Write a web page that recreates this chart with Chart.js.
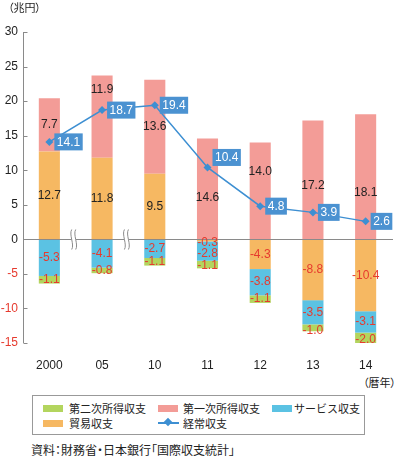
<!DOCTYPE html>
<html>
<head>
<meta charset="utf-8">
<script src="https://cdn.jsdelivr.net/npm/chart.js@4/dist/chart.umd.min.js"></script>
<style>
  html,body{margin:0;padding:0;background:#fff;}
  #wrap{position:relative;width:396px;height:456px;font-family:"Noto Sans CJK JP",sans-serif;color:#222;}
  #chartBox{position:absolute;left:0;top:0;width:396px;height:372px;}
  .jp{position:absolute;font-size:11px;line-height:14px;white-space:nowrap;font-feature-settings:"palt";}
  #legend{position:absolute;left:32px;top:395px;width:331px;height:38px;border:1px solid #999;}
  .sw{position:absolute;width:20px;height:7px;}
  .lt{position:absolute;font-size:11px;line-height:14px;white-space:nowrap;}
</style>
</head>
<body>
<div id="wrap">
  <div id="chartBox"><canvas id="chart"></canvas></div>
  <div class="jp" id="unit" style="left:8px;top:0px;">（兆円）</div>
  <div class="jp" id="xunit" style="left:363px;top:375px;">（暦年）</div>
  <div id="legend"></div>
  <div class="jp" id="source" style="left:31px;top:443px;font-size:12px;">資料：財務省・日本銀行「国際収支統計」</div>
</div>
<script>
const years = ['2000','05','10','11','12','13','14'];
const tradeBalance = [12.7, 11.8, 9.5, -0.3, -4.3, -8.8, -10.4];
const primaryIncome = [7.7, 11.9, 13.6, 14.6, 14.0, 17.2, 18.1];
const services = [-5.3, -4.1, -2.7, -2.8, -3.8, -3.5, -3.1];
const secondaryIncome = [-1.1, -0.8, -1.1, -1.1, -1.1, -1.0, -2.0];
const currentAccount = [14.1, 18.7, 19.4, 10.4, 4.8, 3.9, 2.6];
const yTicks = [-15, -10, -5, 0, 5, 10, 15, 20, 25, 30];

const COL = {
  trade:'#f6b862', primary:'#f39c97', services:'#5bc2e3', secondary:'#b3d55e',
  line:'#3d8fd2', box:'#4b92d1', red:'#e63a2e', axis:'#8a8a8a'
};
const NUM_FONT = '"Liberation Sans", Arial, sans-serif';

// small label nudges (px) so labels don't collide, as in the original
const labelNudge = {
  trade:    [0, 0, 0, 2, 0, 0, 0],
  primary:  [0, -27, 0, 9, -19, 6, 16],
  services: [0, 0, 0, 3, 0, 0, 0],
  secondary:[0, 0, 0, 1, 0, 3, 0]
};
const lineLabelNudge = [0, 0, 0, -10, 0, 0, 0];

// legend (html)
const legendItems = [
  {t:'第二次所得収支', c:COL.secondary, x:10, row:0, tx:36},
  {t:'第一次所得収支', c:COL.primary, x:125, row:0, tx:150},
  {t:'サービス収支', c:COL.services, x:239, row:0, tx:261},
  {t:'貿易収支', c:COL.trade, x:10, row:1, tx:36},
  {t:'経常収支', c:null, x:125, row:1, tx:150}
];
const lg = document.getElementById('legend');
legendItems.forEach(it=>{
  const cy = it.row===0 ? 12 : 27;
  if (it.c) {
    const s=document.createElement('div'); s.className='sw';
    s.style.left=it.x+'px'; s.style.top=(cy-3.5)+'px'; s.style.background=it.c;
    lg.appendChild(s);
  } else {
    const l=document.createElement('div');
    l.style.cssText=`position:absolute;left:${it.x}px;top:${cy-1}px;width:21px;height:1.5px;background:${COL.line}`;
    lg.appendChild(l);
    const d=document.createElement('div');
    d.style.cssText=`position:absolute;left:${it.x+7}px;top:${cy-4}px;width:6px;height:6px;background:${COL.line};transform:rotate(45deg)`;
    lg.appendChild(d);
  }
  const t=document.createElement('div'); t.className='lt';
  t.style.left=it.tx+'px'; t.style.top=(cy-7)+'px'; t.textContent=it.t;
  lg.appendChild(t);
});

const axisPlugin = {
  id:'axisPlugin',
  beforeDatasetsDraw(chart){
    const {ctx, chartArea, scales:{x,y}} = chart;
    ctx.save();
    ctx.strokeStyle = COL.axis; ctx.lineWidth = 1;
    const ax = chartArea.left + 0.5;
    ctx.beginPath();
    ctx.moveTo(ax, y.getPixelForValue(30)); ctx.lineTo(ax, y.getPixelForValue(-15));
    yTicks.forEach(v=>{
      const py = Math.round(y.getPixelForValue(v)) + 0.5;
      ctx.moveTo(ax, py); ctx.lineTo(ax+4, py);
    });
    ctx.stroke();
    ctx.restore();
  },
  afterDatasetsDraw(chart){
    const {ctx, chartArea, scales:{x,y}} = chart;
    const y0 = Math.round(y.getPixelForValue(0)) + 0.5;
    ctx.save();
    ctx.strokeStyle = COL.axis; ctx.lineWidth = 1;
    ctx.beginPath(); ctx.moveTo(chartArea.left, y0); ctx.lineTo(chartArea.right+1, y0); ctx.stroke();
    // break marks between 2000-05 and 05-10
    [[0,1],[1,2]].forEach(([a,b])=>{
      const bx = (x.getPixelForValue(a) + x.getPixelForValue(b)) / 2 - 2;
      ctx.fillStyle = '#fff';
      ctx.fillRect(bx-2, y0-2, 4, 4);
      [-2, 2].forEach(dx=>{
        const cx = bx + dx;
        ctx.beginPath();
        ctx.moveTo(cx, y0-10);
        ctx.bezierCurveTo(cx-3, y0-5, cx+3, y0+5, cx, y0+10);
        ctx.stroke();
      });
    });
    // bar value labels
    ctx.font = '12px ' + NUM_FONT;
    ctx.textAlign = 'center'; ctx.textBaseline = 'middle';
    chart.data.datasets.forEach((ds, di)=>{
      if (ds.type === 'line') return;
      chart.getDatasetMeta(di).data.forEach((el, i)=>{
        const v = ds.data[i];
        const cy = (el.y + el.base) / 2 + (labelNudge[ds.key] ? labelNudge[ds.key][i] : 0);
        ctx.fillStyle = v < 0 ? COL.red : '#222';
        ctx.fillText(v.toFixed(1), el.x, cy);
      });
    });
    // current account labels
    const li = chart.data.datasets.findIndex(d=>d.type==='line');
    chart.getDatasetMeta(li).data.forEach((pt, i)=>{
      const txt = currentAccount[i].toFixed(1);
      const w = ctx.measureText(txt).width + 5, h = 17;
      const bx = pt.x + 5, by = pt.y + lineLabelNudge[i] - h/2;
      ctx.fillStyle = COL.box;
      ctx.fillRect(bx, by, w, h);
      ctx.fillStyle = '#fff';
      ctx.textAlign = 'left';
      ctx.fillText(txt, bx + 2.5, by + h/2 + 0.5);
    });
    ctx.restore();
  }
};

new Chart(document.getElementById('chart'), {
  type:'bar',
  data:{
    labels: years,
    datasets:[
      {key:'trade', label:'貿易収支', data:tradeBalance, backgroundColor:COL.trade, order:2},
      {key:'primary', label:'第一次所得収支', data:primaryIncome, backgroundColor:COL.primary, order:3},
      {key:'services', label:'サービス収支', data:services, backgroundColor:COL.services, order:4},
      {key:'secondary', label:'第二次所得収支', data:secondaryIncome, backgroundColor:COL.secondary, order:5},
      {type:'line', label:'経常収支', data:currentAccount, borderColor:COL.line, backgroundColor:COL.line,
       borderWidth:1.5, pointStyle:'rectRot', pointRadius:4, pointBorderWidth:0, order:1}
    ]
  },
  options:{
    responsive:true, maintainAspectRatio:false, animation:false,
    datasets:{bar:{categoryPercentage:1, barPercentage:0.4}},
    layout:{padding:{top:32, right:1, bottom:0, left:0}},
    plugins:{legend:{display:false}, tooltip:{enabled:false}},
    scales:{
      x:{
        stacked:true,
        grid:{display:false, drawTicks:false}, border:{display:false},
        ticks:{color:'#222', font:{family:NUM_FONT, size:12}, padding:15},
        afterFit(s){ s.height = 29; }
      },
      y:{
        stacked:true, min:-15, max:30,
        grid:{display:false, drawTicks:false}, border:{display:false},
        ticks:{stepSize:5, padding:5, font:{family:NUM_FONT, size:12},
          color:(c)=> c.tick && c.tick.value < 0 ? COL.red : '#222'},
        afterFit(s){ s.width = 23; }
      }
    }
  },
  plugins:[axisPlugin]
});
</script>
</body>
</html>
